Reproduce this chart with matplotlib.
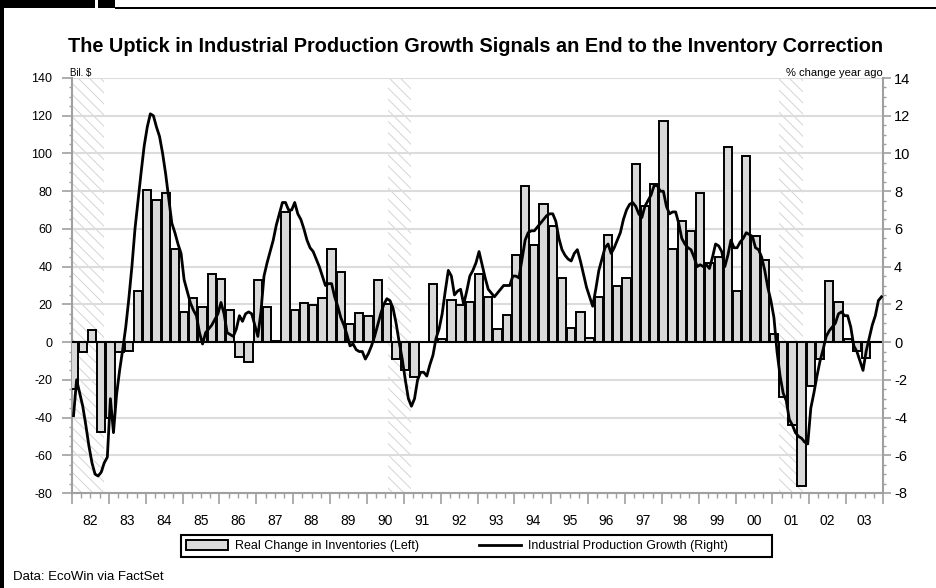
#!/usr/bin/env python3
"""Real change in inventories vs. industrial production growth, 1982-2003."""
from __future__ import annotations

import matplotlib

matplotlib.use("Agg")
import matplotlib.pyplot as plt
import numpy as np
from matplotlib.lines import Line2D
from matplotlib.patches import Patch, Rectangle


# quarterly real change in inventories, bil. $, starting 1982Q1
INVENTORY_CHANGE = [
    -25, -5, 6.4, -47.5, -40, -5.5, -4.5, 27.2,          # 82-83
    80.6, 75.3, 78.8, 49.6, 16, 23.3, 18.7, 36,           # 84-85
    33.2, 17, -7.8, -10.4, 32.9, 18.7, 0.8, 69,           # 86-87
    17, 20.8, 19.6, 23.3, 49.6, 37, 9.4, 15.5,            # 88-89
    14, 33, 20, -9.2, -14.8, -18.4, 0, 30.6,              # 90-91
    1.4, 22.3, 19.6, 21.4, 35.9, 24, 6.7, 14.3,           # 92-93
    46.1, 82.7, 51.4, 73.1, 61.5, 34, 7.6, 16.1,          # 94-95
    2.3, 24, 56.7, 29.9, 34.1, 94.5, 72.4, 83.6,          # 96-97
    117, 49.6, 64.3, 59, 78.8, 41.7, 45, 103.6,           # 98-99
    27.2, 98.6, 56.3, 43.5, 4.1, -29, -44.2, -76.2,       # 00-01
    -23.5, -8.7, 32.5, 21.4, 1.4, -4.6, -8.5,             # 02-03
]

# monthly industrial production, % change year ago, starting Jan 1982
IP_GROWTH = [
    -3.9, -2.0, -2.7, -3.4, -4.4, -5.5, -6.4, -7.0, -7.1, -6.9, -6.4, -6.1,   # 82
    -3.0, -4.8, -2.8, -1.5, -0.4, 0.8, 2.3, 4.0, 6.0, 7.5, 9.0, 10.4,        # 83
    11.4, 12.1, 12.0, 11.4, 10.9, 10.0, 8.9, 7.6, 6.3, 5.8, 5.2, 4.7,        # 84
    3.3, 2.7, 2.1, 1.7, 1.4, 0.5, -0.1, 0.5, 0.7, 0.9, 1.2, 1.5,             # 85
    2.1, 1.5, 0.5, 0.4, 0.3, 0.7, 1.4, 1.1, 1.5, 1.6, 1.5, 0.9,              # 86
    0.3, 1.6, 3.5, 4.2, 4.8, 5.4, 6.2, 6.8, 7.4, 7.4, 7.0, 7.0,              # 87
    7.4, 6.8, 6.5, 6.0, 5.4, 5.0, 4.8, 4.4, 4.0, 3.5, 3.0, 3.1,              # 88
    3.1, 2.4, 1.9, 1.3, 0.9, 0.4, -0.2, -0.1, -0.4, -0.5, -0.5, -0.9,        # 89
    -0.6, -0.2, 0.3, 0.9, 1.5, 2.0, 2.3, 2.2, 1.8, 1.0, 0.0, -0.9,           # 90
    -2.0, -3.0, -3.4, -3.0, -2.0, -1.6, -1.6, -1.8, -1.2, -0.7, 0.2, 0.7,    # 91
    1.5, 2.7, 3.8, 3.5, 2.5, 2.7, 2.8, 2.0, 2.7, 3.5, 3.8, 4.2,              # 92
    4.8, 4.1, 3.4, 2.8, 2.6, 2.4, 2.6, 2.8, 3.0, 3.0, 3.0, 3.5,              # 93
    3.5, 3.4, 4.4, 5.4, 5.8, 5.9, 5.9, 6.1, 6.3, 6.5, 6.7, 6.8,              # 94
    6.8, 6.4, 5.5, 4.9, 4.6, 4.4, 4.3, 4.7, 4.9, 4.3, 3.6, 2.9,              # 95
    2.4, 1.9, 2.8, 3.8, 4.4, 5.0, 5.2, 4.7, 5.0, 5.4, 5.8, 6.5,              # 96
    7.0, 7.3, 7.4, 7.2, 6.8, 6.6, 7.2, 7.5, 7.8, 8.3, 8.3, 8.0,              # 97
    8.0, 7.2, 6.8, 6.9, 6.9, 6.3, 5.5, 5.2, 5.0, 4.9, 4.5, 4.0,              # 98
    4.1, 4.0, 4.1, 3.9, 4.5, 5.2, 5.1, 4.8, 4.0, 4.6, 5.4, 5.0,              # 99
    5.0, 5.3, 5.5, 5.8, 5.7, 5.6, 5.0, 4.9, 4.5, 3.8, 2.9, 2.2,              # 00
    1.3, -0.5, -1.8, -2.7, -3.1, -4.1, -4.4, -4.8, -5.0, -5.1, -5.3, -5.4,   # 01
    -3.5, -2.7, -1.8, -1.0, -0.4, 0.3, 0.6, 0.8, 1.0, 1.5, 1.6, 1.4,         # 02
    1.4, 0.8, -0.2, -0.5, -1.0, -1.5, -0.5, 0.2, 0.9, 1.4, 2.2, 2.4,         # 03
]

# recessions (start, end) in fractional years
RECESSIONS = [(1982.0, 1982.87), (1990.56, 1991.19), (2001.19, 2001.84)]

YEAR_LABELS = ["82", "83", "84", "85", "86", "87", "88", "89", "90", "91", "92",
               "93", "94", "95", "96", "97", "98", "99", "00", "01", "02", "03"]

TITLE = "The Uptick in Industrial Production Growth Signals an End to the Inventory Correction"

W, H = 936, 588
FONT = "Liberation Sans"
GRID = "#dcdcdc"
SPINE = "#a0a0a0"
BAR_FILL = "#d9d9d9"


def fx(px: float) -> float:
    return px / W


def fy(py: float) -> float:
    return 1 - py / H


def draw_frame(fig) -> None:
    # black page decorations round the chart
    for x0, y0, x1, y1 in [(0, 0, 95, 8), (98, 0, 115, 8), (0, 0, 4, H), (115, 7, W, 9)]:
        fig.add_artist(Rectangle((fx(x0), fy(y1)), fx(x1 - x0), (y1 - y0) / H,
                                 transform=fig.transFigure, facecolor="black",
                                 edgecolor="none"))


def main() -> None:
    plt.rcParams["font.family"] = [FONT, "DejaVu Sans"]
    plt.rcParams["axes.unicode_minus"] = False
    plt.rcParams["hatch.linewidth"] = 0.7

    fig = plt.figure(figsize=(W / 100, H / 100), dpi=100)
    fig.patch.set_facecolor("white")
    ax = fig.add_axes([fx(72), fy(493), fx(883) - fx(72), (493 - 78) / H])
    ax2 = ax.twinx()

    quarters = np.arange(len(INVENTORY_CHANGE))
    bar_x = 1982 + quarters * 0.25 + 1 / 24
    months = np.arange(len(IP_GROWTH))
    line_x = 1982 + (months + 0.5) / 12

    for start, end in RECESSIONS:
        ax.axvspan(start, end, facecolor="none", edgecolor="#d4d4d4", hatch="\\\\\\",
                   linewidth=0, zorder=0)

    ax.bar(bar_x, INVENTORY_CHANGE, width=0.225, color=BAR_FILL, edgecolor="black",
           linewidth=1.4, zorder=3)
    ax.axhline(0, color="black", linewidth=1.5, zorder=4)
    ax2.plot(line_x, IP_GROWTH, color="black", linewidth=2.0, zorder=5)

    ax.set_xlim(1982, 2004)
    ax.set_ylim(-80, 140)
    ax2.set_ylim(-8, 14)

    ax.set_yticks(np.arange(-80, 141, 20))
    ax.set_yticks(np.arange(-80, 141, 5), minor=True)
    ax2.set_yticks(np.arange(-8, 15, 2))
    ax2.set_yticks(np.arange(-8, 14.1, 0.5), minor=True)
    ax.set_xticks(np.arange(1982, 2005))
    ax.set_xticks(np.arange(1982, 2004.01, 0.25), minor=True)
    ax.set_xticklabels([])
    ax.yaxis.grid(True, color=GRID, linewidth=1.5, zorder=1)
    ax.set_axisbelow(True)

    for spine in ["top", "right"]:
        ax.spines[spine].set_visible(False)
    for spine in ["top", "left", "bottom"]:
        ax2.spines[spine].set_visible(False)
    for spine in [ax.spines["left"], ax.spines["bottom"], ax2.spines["right"]]:
        spine.set_color(SPINE)
        spine.set_linewidth(1.5)

    ax.tick_params(axis="y", which="major", length=7, width=1.2, color=SPINE,
                   labelsize=9, pad=7)
    ax.tick_params(axis="y", which="minor", length=2.5, width=1, color=SPINE)
    ax.tick_params(axis="x", which="major", length=8, width=1.2, color=SPINE)
    ax.tick_params(axis="x", which="minor", length=3.5, width=1, color=SPINE)
    ax2.tick_params(axis="y", which="major", length=6, width=1.2, color=SPINE,
                    labelsize=10.5, pad=2)
    ax2.tick_params(axis="y", which="minor", length=2.5, width=1, color=SPINE)

    xaxis_tf = ax.get_xaxis_transform()
    for i, label in enumerate(YEAR_LABELS):
        ax.text(1982.5 + i, -0.068, label, transform=xaxis_tf, ha="center",
                va="center", fontsize=10)

    fig.text(fx(476), fy(47), TITLE, ha="center", va="center", fontsize=14.3,
             fontweight="bold")
    fig.text(fx(70), fy(73), "Bil. $", ha="left", va="center", fontsize=7)
    fig.text(fx(883), fy(73), "% change year ago", ha="right", va="center", fontsize=8)
    fig.text(fx(13), fy(577), "Data: EcoWin via FactSet", ha="left", va="center",
             fontsize=9.5)

    handles = [
        Patch(facecolor=BAR_FILL, edgecolor="black", linewidth=1.4),
        Line2D([], [], color="black", linewidth=2.0),
    ]
    labels = ["Real Change in Inventories (Left)", "Industrial Production Growth (Right)"]
    fig.legend(handles, labels, loc="center left", bbox_to_anchor=(fx(177), fy(546)),
               ncol=2, frameon=False, fontsize=9, handlelength=3.36,
               handleheight=0.8, handletextpad=0.56, columnspacing=4.8,
               borderpad=0.2)
    fig.add_artist(Rectangle((fx(181), fy(557)), fx(772 - 181), (557 - 535) / H,
                             transform=fig.transFigure, facecolor="none",
                             edgecolor="black", linewidth=1.5))

    draw_frame(fig)
    fig.savefig("out.png", dpi=100)
    plt.close(fig)


if __name__ == "__main__":
    main()
